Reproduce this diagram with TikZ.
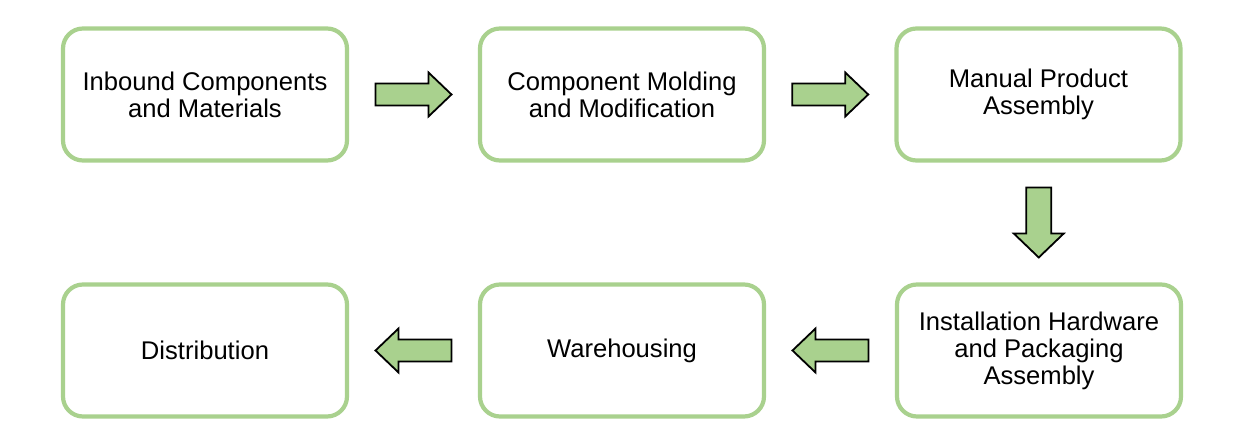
\documentclass[tikz,border=0pt]{standalone}
\usepackage{fontspec}
\setmainfont{Liberation Sans}
\usetikzlibrary{calc}
\definecolor{boxgreen}{HTML}{A9D18E}
\definecolor{arrowgreen}{HTML}{A9D18E}
\tikzset{
  procbox/.style={draw=boxgreen, line width=4.2bp, rounded corners=20bp, fill=white,
    minimum width=284bp, minimum height=132bp, align=center, inner sep=0pt,
    font=\fontsize{25.6bp}{27bp}\selectfont, text=black},
  blockarrow/.style={draw=black, line width=1.8bp, fill=arrowgreen, line join=miter},
  harrow/.pic={\path[blockarrow] (-38,-11) -- (15,-11) -- (15,-22) -- (38,0) -- (15,22) -- (15,11) -- (-38,11) -- cycle;},
  varrow/.pic={\path[blockarrow] (-12.5,-35) -- (12.5,-35) -- (12.5,11) -- (25,11) -- (0,35) -- (-25,11) -- (-12.5,11) -- (-12.5,-35) -- cycle;}
}
\begin{document}
\begin{tikzpicture}[x=1bp,y=-1bp]
\useasboundingbox (0,0) rectangle (1241,442);
\node[procbox] (b1) at (205,94.5) {Inbound Components\\and Materials};
\node[procbox] (b2) at (622,94.5) {Component Molding\\and Modification};
\node[procbox] (b3) at (1038.5,94.5) {Manual Product\\Assembly};
\node[procbox] (b4) at (1039,350.5) {Installation Hardware\\and Packaging\\Assembly};
\node[procbox] (b5) at (622,350.5) {Warehousing};
\node[procbox] (b6) at (205,350.5) {Distribution};
\pic at ($(b1.east)!0.5!(b2.west)$) {harrow};
\pic at ($(b2.east)!0.5!(b3.west)$) {harrow};
\pic at ($(b3.south)!0.5!(b4.north)$) {varrow};
\pic[rotate=180] at ($(b4.west)!0.5!(b5.east)$) {harrow};
\pic[rotate=180] at ($(b5.west)!0.5!(b6.east)$) {harrow};
\end{tikzpicture}
\end{document}
